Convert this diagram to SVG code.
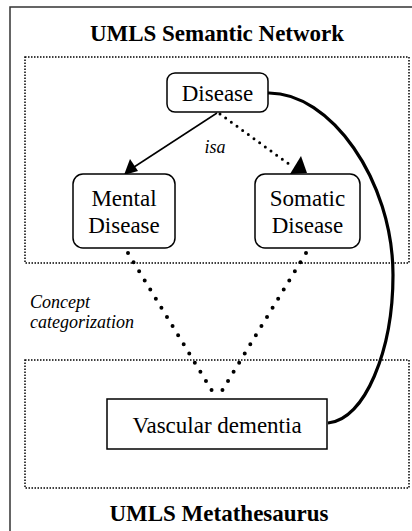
<svg xmlns="http://www.w3.org/2000/svg" width="412" height="531" viewBox="0 0 412 531" font-family="'Liberation Serif', 'DejaVu Serif', serif">
<style>
text{font-family:'Liberation Serif','DejaVu Serif',serif;fill:#000}
.title{font-size:23px;font-weight:bold}
.lbl{font-size:23px}
.it{font-size:18px;font-style:italic}
.box{fill:#fff;stroke:#000;stroke-width:1.5}
.region{fill:none;stroke:#000;stroke-width:1.5;stroke-dasharray:1.5 1.5}
</style>
<rect x="10" y="7" width="410" height="530" fill="#fff" stroke="#333" stroke-width="1.5"/>
<rect class="region" x="25" y="57" width="384" height="206"/>
<rect class="region" x="25" y="360" width="384" height="128"/>
<text class="title" x="217" y="41" text-anchor="middle">UMLS Semantic Network</text>
<text class="title" x="219" y="521" text-anchor="middle">UMLS Metathesaurus</text>
<g id="connectors">
<path d="M268,93 C330,92 393,180 393,275 C393,350 365,420 328,423" fill="none" stroke="#000" stroke-width="3.2"/>
<line x1="217" y1="113" x2="131" y2="169" stroke="#000" stroke-width="1.5"/>
<polygon points="124,175 130,159 138,171" fill="#000"/>
<line x1="220" y1="114" x2="293" y2="167" stroke="#000" stroke-width="3" stroke-linecap="round" stroke-dasharray="0 7"/>
<polygon points="301,156 290,174 307,173" fill="#000"/>
<line x1="128" y1="253" x2="217" y2="399" stroke="#000" stroke-width="4" stroke-linecap="round" stroke-dasharray="0 10.7"/>
<line x1="306" y1="253" x2="217" y2="399" stroke="#000" stroke-width="4" stroke-linecap="round" stroke-dasharray="0 10.7"/>
<text class="it" x="215" y="153" text-anchor="middle">isa</text>
<text class="it" x="30" y="308">Concept</text>
<text class="it" x="30" y="328">categorization</text>
</g>
<g id="disease">
<rect class="box" x="167" y="73" width="101" height="39" rx="8"/>
<text class="lbl" x="217.5" y="101" text-anchor="middle">Disease</text>
</g>
<g id="mental">
<rect class="box" x="73" y="174" width="102" height="74" rx="10"/>
<text class="lbl" x="124" y="206" text-anchor="middle">Mental</text>
<text class="lbl" x="124" y="233" text-anchor="middle">Disease</text>
</g>
<g id="somatic">
<rect class="box" x="255" y="174" width="105" height="74" rx="10"/>
<text class="lbl" x="307.5" y="206" text-anchor="middle">Somatic</text>
<text class="lbl" x="307.5" y="233" text-anchor="middle">Disease</text>
</g>
<g id="vascular">
<rect class="box" x="107" y="399" width="220" height="50"/>
<text class="lbl" x="217" y="433" text-anchor="middle">Vascular dementia</text>
</g>
</svg>
